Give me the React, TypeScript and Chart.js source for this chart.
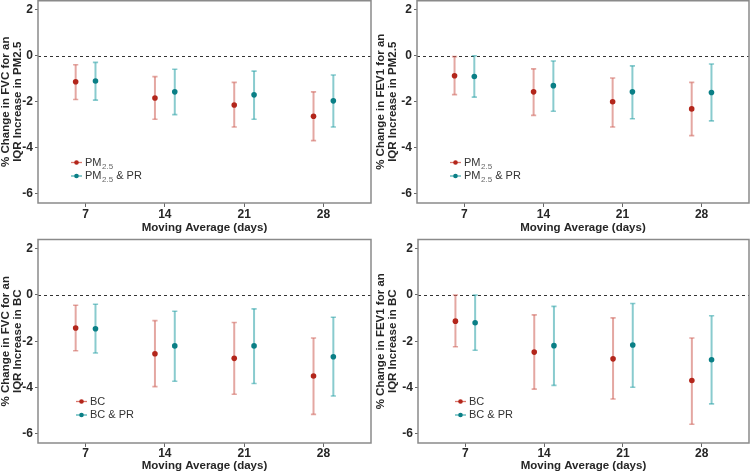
import React, { useEffect, useRef } from "react";
import { Chart, registerables } from "chart.js";
Chart.register(...registerables);

// ---------- data ----------
const categories = [1, 2, 3, 4];
const tickLabels = ["7", "14", "21", "28"];
const yTicks = [-6, -4, -2, 0, 2];

// FVC, PM2.5
const fvcPmEst = [-1.13, -1.84, -2.14, -2.63];
const fvcPmLow = [-1.9, -2.76, -3.1, -3.69];
const fvcPmHigh = [-0.39, -0.91, -1.16, -1.57];
const fvcPmPrEst = [-1.1, -1.57, -1.7, -1.96];
const fvcPmPrLow = [-1.93, -2.56, -2.76, -3.1];
const fvcPmPrHigh = [-0.29, -0.59, -0.67, -0.84];
// FEV1, PM2.5
const fev1PmEst = [-0.87, -1.57, -2.0, -2.31];
const fev1PmLow = [-1.69, -2.59, -3.1, -3.47];
const fev1PmHigh = [-0.04, -0.57, -0.97, -1.16];
const fev1PmPrEst = [-0.9, -1.3, -1.57, -1.6];
const fev1PmPrLow = [-1.8, -2.41, -2.74, -2.83];
const fev1PmPrHigh = [0.0, -0.23, -0.44, -0.36];
// FVC, BC
const fvcBcEst = [-1.43, -2.54, -2.74, -3.5];
const fvcBcLow = [-2.41, -3.96, -4.29, -5.16];
const fvcBcHigh = [-0.44, -1.11, -1.19, -1.86];
const fvcBcPrEst = [-1.46, -2.2, -2.2, -2.67];
const fvcBcPrLow = [-2.51, -3.73, -3.83, -4.37];
const fvcBcPrHigh = [-0.4, -0.7, -0.6, -0.96];
// FEV1, BC
const fev1BcEst = [-1.13, -2.47, -2.76, -3.7];
const fev1BcLow = [-2.24, -4.07, -4.5, -5.59];
const fev1BcHigh = [0.0, -0.86, -0.99, -1.86];
const fev1BcPrEst = [-1.2, -2.19, -2.16, -2.8];
const fev1BcPrLow = [-2.39, -3.91, -3.99, -4.71];
const fev1BcPrHigh = [0.0, -0.49, -0.37, -0.9];

const xTitle = "Moving Average (days)";
const dodge = 0.125;

const RED_PT = "#b3261b";
const RED_BAR = "rgba(205,95,85,0.55)";
const RED_LEG = "#d9776d";
const TEAL_PT = "#0a7f86";
const TEAL_BAR = "rgba(40,160,165,0.55)";
const TEAL_LEG = "#4fb0b4";
const FONT = "'Liberation Sans', Arial, sans-serif";
const TEXT = "#262626";

type Panel = {
  left: number;
  top: number;
  w: number;
  h: number;
  yWidth: number;
  xHeight: number;
  padTop: number;
  padRight: number;
  tickPad: number;
  xTitlePad: number;
  legendX: number;
  yTitle: string[];
  name: string;
  sub: string;
  a: [number[], number[], number[]];
  b: [number[], number[], number[]];
};

const panels: Panel[] = [
  {
    left: 0, top: 0, w: 375, h: 235, yWidth: 38, xHeight: 32, padTop: 0.5, padRight: 4, tickPad: 0, xTitlePad: 0.5, legendX: 33,
    yTitle: ["% Change in FVC for an", "IQR Increase in PM2.5"], name: "PM", sub: "2.5",
    a: [fvcPmEst, fvcPmLow, fvcPmHigh], b: [fvcPmPrEst, fvcPmPrLow, fvcPmPrHigh],
  },
  {
    left: 375, top: 0, w: 375, h: 235, yWidth: 42, xHeight: 32, padTop: 0.5, padRight: 1, tickPad: 0, xTitlePad: 0.5, legendX: 33,
    yTitle: ["% Change in FEV1 for an", "IQR Increase in PM2.5"], name: "PM", sub: "2.5",
    a: [fev1PmEst, fev1PmLow, fev1PmHigh], b: [fev1PmPrEst, fev1PmPrLow, fev1PmPrHigh],
  },
  {
    left: 0, top: 235, w: 375, h: 236, yWidth: 38, xHeight: 28, padTop: 4.5, padRight: 4, tickPad: -1, xTitlePad: -2, legendX: 38,
    yTitle: ["% Change in FVC for an", "IQR Increase in BC"], name: "BC", sub: "",
    a: [fvcBcEst, fvcBcLow, fvcBcHigh], b: [fvcBcPrEst, fvcBcPrLow, fvcBcPrHigh],
  },
  {
    left: 375, top: 235, w: 375, h: 236, yWidth: 43, xHeight: 28, padTop: 4.5, padRight: 1, tickPad: -1, xTitlePad: -2, legendX: 37,
    yTitle: ["% Change in FEV1 for an", "IQR Increase in BC"], name: "BC", sub: "",
    a: [fev1BcEst, fev1BcLow, fev1BcHigh], b: [fev1BcPrEst, fev1BcPrLow, fev1BcPrHigh],
  },
];

const panelPlugin = {
  id: "panelDecor",
  beforeDatasetsDraw(chart: any) {
    const { ctx, chartArea: ca, scales } = chart;
    const x = scales.x;
    const y = scales.y;
    // zero reference line
    ctx.save();
    ctx.strokeStyle = "#333";
    ctx.lineWidth = 1;
    ctx.setLineDash([3, 3]);
    const y0 = Math.round(y.getPixelForValue(0)) + 0.5;
    ctx.beginPath();
    ctx.moveTo(ca.left, y0);
    ctx.lineTo(ca.right, y0);
    ctx.stroke();
    ctx.setLineDash([]);
    // error bars
    chart.data.datasets.forEach((ds: any) => {
      ctx.strokeStyle = ds.barColor;
      ds.data.forEach((p: any, i: number) => {
        const px = x.getPixelForValue(p.x);
        const yl = y.getPixelForValue(ds.low[i]);
        const yh = y.getPixelForValue(ds.high[i]);
        ctx.lineWidth = 2;
        ctx.beginPath();
        ctx.moveTo(px, yl);
        ctx.lineTo(px, yh);
        ctx.stroke();
        ctx.lineWidth = 1.6;
        ctx.beginPath();
        ctx.moveTo(px - 2.6, yl);
        ctx.lineTo(px + 2.6, yl);
        ctx.moveTo(px - 2.6, yh);
        ctx.lineTo(px + 2.6, yh);
        ctx.stroke();
      });
    });
    ctx.restore();
  },
  afterDraw(chart: any) {
    const { ctx, chartArea: ca } = chart;
    const opts = chart.options.plugins.panelDecor;
    ctx.save();
    // panel border
    const top = Math.max(ca.top, 0.75);
    ctx.strokeStyle = "#8a8a8a";
    ctx.lineWidth = 1.5;
    ctx.strokeRect(ca.left, top, ca.right - ca.left, ca.bottom - top);
    // legend
    const entries = opts.legend;
    entries.forEach((e: any, i: number) => {
      const ly = ca.top + 162 + i * 13.5;
      const lx = ca.left + opts.legendX;
      ctx.strokeStyle = e.line;
      ctx.lineWidth = 1.3;
      ctx.beginPath();
      ctx.moveTo(lx, ly);
      ctx.lineTo(lx + 11, ly);
      ctx.stroke();
      ctx.fillStyle = e.point;
      ctx.beginPath();
      ctx.arc(lx + 5.5, ly, 2.3, 0, Math.PI * 2);
      ctx.fill();
      let tx = lx + 14;
      ctx.textBaseline = "middle";
      ctx.fillStyle = "#333";
      ctx.font = `11px ${FONT}`;
      ctx.fillText(e.name, tx, ly);
      tx += ctx.measureText(e.name).width;
      if (e.sub) {
        ctx.font = `8px ${FONT}`;
        ctx.fillStyle = "#666";
        ctx.fillText(e.sub, tx + 0.5, ly + 4);
        tx += ctx.measureText(e.sub).width + 0.5;
        ctx.font = `11px ${FONT}`;
        ctx.fillStyle = "#333";
      }
      if (e.rest) ctx.fillText(e.rest, tx, ly);
    });
    ctx.restore();
  },
};

function PanelChart({ p }: { p: Panel }) {
  const ref = useRef<HTMLCanvasElement | null>(null);
  useEffect(() => {
    if (!ref.current) return;
    const mk = (s: [number[], number[], number[]], off: number) =>
      categories.map((c, i) => ({ x: c + off, y: s[0][i] }));
    const chart = new Chart(ref.current, {
      type: "scatter",
      data: {
        datasets: [
          {
            data: mk(p.a, -dodge),
            low: p.a[1],
            high: p.a[2],
            barColor: RED_BAR,
            backgroundColor: RED_PT,
            borderColor: RED_PT,
            pointRadius: 2.8,
            pointBorderWidth: 0,
          } as any,
          {
            data: mk(p.b, dodge),
            low: p.b[1],
            high: p.b[2],
            barColor: TEAL_BAR,
            backgroundColor: TEAL_PT,
            borderColor: TEAL_PT,
            pointRadius: 2.8,
            pointBorderWidth: 0,
          } as any,
        ],
      },
      options: {
        animation: false,
        responsive: false,
        maintainAspectRatio: false,
        layout: { autoPadding: false, padding: { top: p.padTop, right: p.padRight, left: 0, bottom: 0 } },
        plugins: {
          legend: { display: false },
          tooltip: { enabled: false },
          panelDecor: {
            legendX: p.legendX,
            legend: [
              { name: p.name, sub: p.sub, rest: "", line: RED_LEG, point: RED_PT },
              { name: p.name, sub: p.sub, rest: " & PR", line: TEAL_LEG, point: TEAL_PT },
            ],
          },
        } as any,
        scales: {
          x: {
            type: "linear",
            min: 0.4,
            max: 4.6,
            afterBuildTicks: (s: any) => {
              s.ticks = categories.map((v) => ({ value: v }));
            },
            afterFit: (s: any) => {
              s.height = p.xHeight;
              s.paddingLeft = 0;
              s.paddingRight = 0;
            },
            ticks: {
              callback: (v: any) => tickLabels[categories.indexOf(Number(v))] ?? "",
              color: TEXT,
              font: { family: FONT, size: 12, weight: "bold" },
              padding: p.tickPad,
              maxRotation: 0,
              autoSkip: false,
            },
            grid: { drawOnChartArea: false, tickLength: 4, tickColor: "#666", color: "#666" },
            border: { display: false },
            title: {
              display: true,
              text: xTitle,
              color: TEXT,
              font: { family: FONT, size: 11.5, weight: "bold" },
              padding: { top: 0, bottom: p.xTitlePad },
            },
          },
          y: {
            type: "linear",
            min: -6.4,
            max: 2.4,
            afterBuildTicks: (s: any) => {
              s.ticks = yTicks.map((v) => ({ value: v }));
            },
            afterFit: (s: any) => {
              s.width = p.yWidth;
              s.paddingTop = 0;
              s.paddingBottom = 0;
            },
            ticks: {
              color: TEXT,
              font: { family: FONT, size: 12, weight: "bold" },
              padding: 2,
            },
            grid: { drawOnChartArea: false, tickLength: 3, tickColor: "#666", color: "#666" },
            border: { display: false },
            title: {
              display: true,
              text: p.yTitle,
              color: TEXT,
              font: { family: FONT, size: 11.5, weight: "bold", lineHeight: 1.05 },
              padding: { top: 0, bottom: 0 },
            },
          },
        },
      } as any,
      plugins: [panelPlugin as any],
    });
    return () => chart.destroy();
  }, [p]);
  return (
    <canvas
      ref={ref}
      width={p.w}
      height={p.h}
      style={{ position: "absolute", left: p.left, top: p.top, width: p.w, height: p.h }}
    />
  );
}

export default function App() {
  return (
    <div style={{ position: "fixed", left: 0, top: 0, width: 750, height: 471, background: "#fff" }}>
      {panels.map((p, i) => (
        <PanelChart key={i} p={p} />
      ))}
    </div>
  );
}
